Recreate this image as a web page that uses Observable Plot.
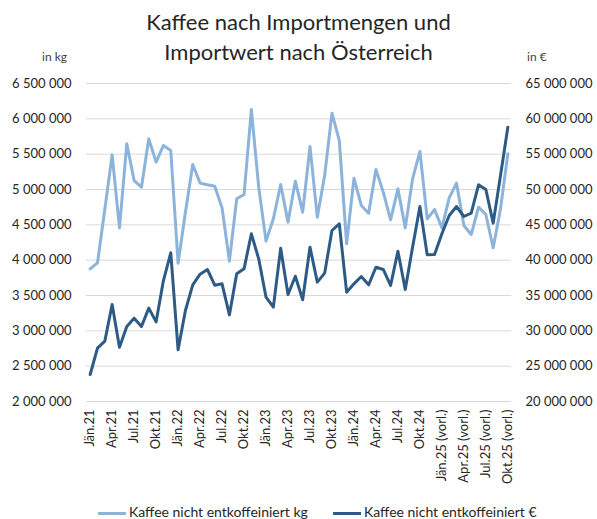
<!DOCTYPE html>
<html><head><meta charset="utf-8">
<script src="https://cdn.jsdelivr.net/npm/d3@7"></script>
<script src="https://cdn.jsdelivr.net/npm/@observablehq/plot@0.6"></script>
<style>
body{margin:0;background:#fff;font-family:Lato,"Open Sans",sans-serif;}
#wrap{position:relative;width:597px;height:519px;overflow:hidden;background:#fff;}
#wrap svg{position:absolute;left:0;top:0;}
.title{position:absolute;left:0;top:7px;width:597px;text-align:center;font-size:22px;line-height:30px;color:#262626;}
.unit{position:absolute;top:49px;font-size:12px;color:#404040;}
.leg{position:absolute;top:503px;font-size:14px;line-height:17px;color:#262626;white-space:nowrap;}
.leg span{display:inline-block;width:28px;height:3px;vertical-align:middle;margin-right:3px;}
</style></head><body>
<div id="wrap">
<div class="title">Kaffee nach Importmengen und<br>Importwert nach Österreich</div>
<div class="unit" style="left:42px">in kg</div>
<div class="unit" style="left:527px">in €</div>
<div class="leg" style="left:98px"><span style="background:#8cb3d9"></span>Kaffee nicht entkoffeiniert kg</div>
<div class="leg" style="left:333px"><span style="background:#2e5b85"></span>Kaffee nicht entkoffeiniert €</div>
</div>
<script>
const months = [
 "Jän.21","Feb.21","Mär.21","Apr.21","Mai.21","Jun.21","Jul.21","Aug.21","Sep.21","Okt.21","Nov.21","Dez.21",
 "Jän.22","Feb.22","Mär.22","Apr.22","Mai.22","Jun.22","Jul.22","Aug.22","Sep.22","Okt.22","Nov.22","Dez.22",
 "Jän.23","Feb.23","Mär.23","Apr.23","Mai.23","Jun.23","Jul.23","Aug.23","Sep.23","Okt.23","Nov.23","Dez.23",
 "Jän.24","Feb.24","Mär.24","Apr.24","Mai.24","Jun.24","Jul.24","Aug.24","Sep.24","Okt.24","Nov.24","Dez.24",
 "Jän.25 (vorl.)","Feb.25 (vorl.)","Mär.25 (vorl.)","Apr.25 (vorl.)","Mai.25 (vorl.)","Jun.25 (vorl.)","Jul.25 (vorl.)","Aug.25 (vorl.)","Sep.25 (vorl.)","Okt.25 (vorl.)"
];
const kg = [
 3877000,3962000,4720000,5490000,4457000,5646000,5127000,5033000,5717000,5387000,5623000,5552000,
 3957000,4679000,5354000,5090000,5066000,5047000,4740000,3986000,4868000,4929000,6132000,5033000,
 4269000,4585000,5071000,4538000,5118000,4679000,5608000,4608000,5198000,6080000,5693000,4231000,
 5160000,4774000,4665000,5283000,4962000,4571000,5009000,4457000,5151000,5538000,4585000,4717000,
 4457000,4882000,5090000,4491000,4363000,4750000,4646000,4175000,4726000,5505000
];
const eur = [
 23820000,27550000,28540000,33730000,27690000,30610000,31790000,30610000,33210000,31270000,37120000,41040000,
 27310000,32880000,36510000,38020000,38680000,36460000,36650000,32260000,38070000,38770000,43730000,40190000,
 34760000,33350000,41700000,35140000,37730000,34390000,41840000,36890000,38160000,44200000,45140000,35470000,
 36650000,37690000,36510000,39000000,38680000,36420000,41270000,35850000,41840000,47590000,40750000,40800000,
 43730000,46320000,47590000,46180000,46650000,50660000,50000000,45240000,51980000,58820000
];
const tickLabels = months.filter((d, i) => i % 3 === 0);
const kgTicks = [2000000,2500000,3000000,3500000,4000000,4500000,5000000,5500000,6000000,6500000];
const eurPerKgAxis = 10; // right axis (€) is 10x the left axis (kg)

const data = months.map((m, i) => ({month: m, kg: kg[i], eur: eur[i]}));
const fmt = d3.formatLocale({decimal: ",", thousands: " ", grouping: [3], currency: ["", "€"]}).format(",");

const plot = Plot.plot({
  width: 597, height: 519,
  marginLeft: 86, marginRight: 86, marginTop: 83, marginBottom: 118,
  style: {fontFamily: "Lato, 'Open Sans', sans-serif", fontSize: "13px", color: "#262626", background: "transparent"},
  x: {type: "point", domain: months, padding: 0.5, round: false},
  y: {domain: [2000000, 6500000]},
  marks: [
    Plot.gridY(kgTicks, {stroke: "#d9d9d9", strokeOpacity: 1, strokeWidth: 1}),
    Plot.axisY(kgTicks, {anchor: "left", tickSize: 0, tickPadding: 15, tickFormat: fmt, label: null, fontSize: 13}),
    Plot.axisY(kgTicks, {anchor: "right", tickSize: 0, tickPadding: 14, tickFormat: d => fmt(d * eurPerKgAxis), label: null, fontSize: 13}),
    Plot.axisX(tickLabels, {tickRotate: -90, tickSize: 0, tickPadding: 8, label: null, fontSize: 13}),
    Plot.lineY(data, {x: "month", y: "kg", stroke: "#8cb3d9", strokeWidth: 3, strokeLinejoin: "round"}),
    Plot.lineY(data, {x: "month", y: d => d.eur / eurPerKgAxis, stroke: "#2e5b85", strokeWidth: 3, strokeLinejoin: "round"})
  ]
});
document.getElementById("wrap").prepend(plot);
</script>
</body></html>
